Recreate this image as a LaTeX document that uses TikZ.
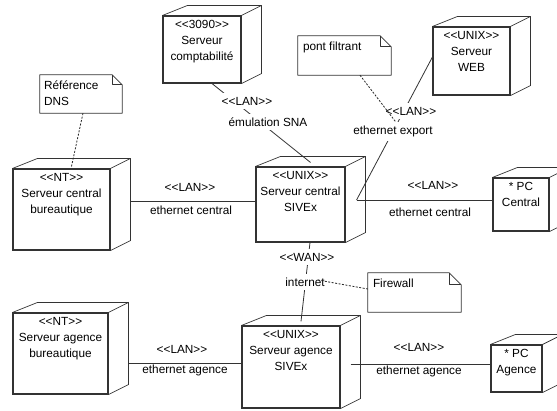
\documentclass[tikz,border=0pt]{standalone}
\usepackage{fontspec}
\setmainfont{Liberation Sans}
\usetikzlibrary{calc}

% stereotype text without the << >> ligatures
\newcommand\stereo[1]{<\kern0pt<#1>\kern0pt>}

\tikzset{
  txt/.style={font=\fontsize{11.8}{16}\selectfont, text=black},
  unode/.style={draw=black!80, line width=1.1pt, rectangle, inner sep=0pt, fill=white},
  back/.style={draw=black!80, line width=0.7pt, line join=round},
  nodetitle/.style={txt, anchor=north, align=center, inner sep=2pt, yshift=-3pt},
  conn/.style={draw=black!80, line width=0.8pt},
  lbl/.style={txt, fill=white, inner sep=1pt},
  slantlbl/.style={lbl, inner xsep=2pt, inner ysep=4pt},
  notebox/.style={rectangle, inner sep=0pt},
  noteedge/.style={draw=black!80, line width=0.8pt, line join=round},
  notetxt/.style={txt, anchor=north west, align=left, inner sep=2pt},
  anchorline/.style={draw=black!85, line width=0.8pt, dash pattern=on 2pt off 1.5pt}
}

% side and top faces of a deployment node
\newcommand\cubeback[1]{%
  \draw[back] (#1.north west) -- ++(25,-10) -| ($(#1.south east)+(20,-10)$) -- (#1.south east);
  \draw[back] (#1.north east) -- ++(20,-10);}

% note outline with folded corner
\newcommand\noteshape[2]{%
  \draw[noteedge] (#1.north west) -- ($(#1.north east)+(-#2,0)$) -- ($(#1.north east)+(0,#2)$)
    -- (#1.south east) -- (#1.south west) -- cycle;
  \draw[noteedge] ($(#1.north east)+(-#2,0)$) -- ++(0,#2) -- ($(#1.north east)+(0,#2)$);}

\begin{document}
\begin{tikzpicture}[x=1pt,y=-1pt]
\useasboundingbox[fill=white] (0,0) rectangle (557,410);

% ---- deployment nodes ----
\node[unode, minimum width=78pt, minimum height=67pt] (compta) at (202,49.5) {};
\node[unode, minimum width=77pt, minimum height=68pt] (web) at (471.5,61) {};
\node[unode, minimum width=97pt, minimum height=81pt] (centralbur) at (61.5,209.5) {};
\node[unode, minimum width=89pt, minimum height=75pt] (sivex) at (300.5,204.5) {};
\node[unode, minimum width=56pt, minimum height=53pt] (pccentral) at (521,204.5) {};
\node[unode, minimum width=95pt, minimum height=81pt] (agbur) at (60.5,353.5) {};
\node[unode, minimum width=98pt, minimum height=82pt] (agsivex) at (291,367) {};
\node[unode, minimum width=51pt, minimum height=47pt] (pcagence) at (516.5,368.5) {};

\cubeback{compta}
\cubeback{web}
\cubeback{centralbur}
\cubeback{sivex}
\cubeback{pccentral}
\cubeback{agbur}
\cubeback{agsivex}
\cubeback{pcagence}

\node[nodetitle] (compta-t) at (compta.north) {\stereo{3090}\\Serveur\\comptabilité};
\node[nodetitle] (web-t) at (web.north) {\stereo{UNIX}\\Serveur\\WEB};
\node[nodetitle] (centralbur-t) at (centralbur.north) {\stereo{NT}\\Serveur central\\bureautique};
\node[nodetitle] (sivex-t) at (sivex.north) {\stereo{UNIX}\\Serveur central\\SIVEx};
\node[nodetitle] (pccentral-t) at (pccentral.north) {* PC\\Central};
\node[nodetitle] (agbur-t) at (agbur.north) {\stereo{NT}\\Serveur agence\\bureautique};
\node[nodetitle] (agsivex-t) at (agsivex.north) {\stereo{UNIX}\\Serveur agence\\SIVEx};
\node[nodetitle] (pcagence-t) at (pcagence.north) {* PC\\Agence};

% ---- connection end points on the node faces ----
\coordinate (comptaS) at ($(compta.south)+(10,0)$);
\coordinate (sivexTop) at ($(sivex.north)+(10,-4)$);
\coordinate (webW) at ($(web.west)+(0,-4)$);
\coordinate (sivexE) at ($(sivex.east)+(11,-4.5)$);
\coordinate (centralburE) at ($(centralbur.east)+(20,-8.5)$);
\coordinate (sivexS) at ($(sivex.south)+(9.5,0)$);
\coordinate (agsivexTop) at ($(agsivex.north)+(10,-4)$);
\coordinate (agburE) at ($(agbur.east)+(20,9.5)$);
\coordinate (agsivexE) at ($(agsivex.east)+(10,-3)$);

% ---- connections ----
\draw[conn] (comptaS) -- (sivexTop);
\draw[conn] (webW) -- (sivexE);
\draw[conn] (centralburE) -- (centralburE -| sivex.west);
\draw[conn] (sivexE) -- (sivexE -| pccentral.west);
\draw[conn] (sivexS) -- (agsivexTop);
\draw[conn] (agburE) -- (agburE -| agsivex.west);
\draw[conn] (agsivexE) -- (agsivexE -| pcagence.west);

% ---- connection labels ----
\node[slantlbl] (l1a) at (247,101) {\stereo{LAN}};
\node[slantlbl] (l1b) at (268,122) {émulation SNA};
\node[slantlbl] (l2a) at (411,111) {\stereo{LAN}};
\node[slantlbl] (l2b) at (393,131) {ethernet export};
\node[lbl] (l3a) at (190,187) {\stereo{LAN}};
\node[lbl] (l3b) at (191,210) {ethernet central};
\node[lbl] (l4a) at (433,185) {\stereo{LAN}};
\node[lbl] (l4b) at (430,212) {ethernet central};
\node[slantlbl] (l5a) at (307,257) {\stereo{WAN}};
\node[slantlbl] (l5b) at (305,282) {internet};
\node[lbl] (l6a) at (182,349) {\stereo{LAN}};
\node[lbl] (l6b) at (185,370) {ethernet agence};
\node[lbl] (l7a) at (419,347) {\stereo{LAN}};
\node[lbl] (l7b) at (419,371) {ethernet agence};

% ---- notes ----
\node[notebox, minimum width=82pt, minimum height=38pt] (dns) at (81,94) {};
\noteshape{dns}{10}
\node[notetxt] (dns-t) at ($(dns.north west)+(2,3.5)$) {Référence\\DNS};

\node[notebox, minimum width=93pt, minimum height=39pt] (pont) at (344.5,55.5) {};
\noteshape{pont}{11}
\node[notetxt] (pont-t) at ($(pont.north west)+(3,3.5)$) {pont filtrant};

\node[notebox, minimum width=93pt, minimum height=39pt] (firewall) at (414.5,292.5) {};
\noteshape{firewall}{12}
\node[notetxt] (firewall-t) at ($(firewall.north west)+(3,3.5)$) {Firewall};

% ---- note anchors ----
\draw[anchorline] ($(dns.south)+(2,0)$) -- ($(centralbur.north)+(10,-2)$);
\draw[anchorline] ($(pont.south)+(15.5,0)$) -- ($(l2b.north)+(3,1)$);
\draw[anchorline] ($(l5b.east)+(-9,-2)$) -- ($(firewall.west)+(0,-3.5)$);
\end{tikzpicture}
\end{document}
